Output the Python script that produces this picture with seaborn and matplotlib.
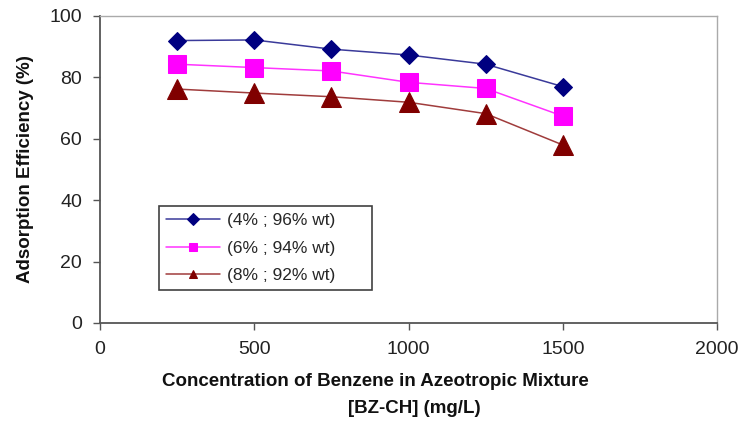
import matplotlib
matplotlib.use("Agg")
import matplotlib.pyplot as plt
import seaborn as sns
import pandas as pd

concentration = [250, 500, 750, 1000, 1250, 1500]
eff_4 = [92.0, 92.2, 89.2, 87.3, 84.3, 77.0]
eff_6 = [84.3, 83.2, 82.1, 78.4, 76.4, 67.4]
eff_8 = [76.2, 74.9, 73.7, 71.9, 68.2, 58.0]
series_labels = ["(4% ; 96% wt)", "(6% ; 94% wt)", "(8% ; 92% wt)"]
x_ticks = [0, 500, 1000, 1500, 2000]
y_ticks = [0, 20, 40, 60, 80, 100]

rows = []
for lab, vals in zip(series_labels, [eff_4, eff_6, eff_8]):
    for c, v in zip(concentration, vals):
        rows.append({"conc": c, "eff": v, "series": lab})
df = pd.DataFrame(rows)

sns.set_theme(style="white")
plt.rcParams['font.family'] = ['Liberation Sans', 'DejaVu Sans']

fig = plt.figure(figsize=(7.41, 4.21), dpi=100)
ax = fig.add_axes([0.135, 0.2328, 0.8326, 0.7292])

colors = {series_labels[0]: "#000080", series_labels[1]: "#FF00FF", series_labels[2]: "#800000"}
markers = {series_labels[0]: "D", series_labels[1]: "s", series_labels[2]: "^"}
sizes = {series_labels[0]: 9.5, series_labels[1]: 13.5, series_labels[2]: 14}
linecolors = {series_labels[0]: "#3a3a9a", series_labels[1]: "#FF33FF", series_labels[2]: "#a03c3c"}

for lab in series_labels:
    sub = df[df["series"] == lab]
    sns.lineplot(data=sub, x="conc", y="eff", ax=ax, color=linecolors[lab],
                 marker=markers[lab], markersize=sizes[lab],
                 markerfacecolor=colors[lab], markeredgecolor=colors[lab],
                 linewidth=1.1, label=lab)

ax.set_xlim(0, 2000)
ax.set_ylim(0, 100)
ax.set_xticks(x_ticks)
ax.set_yticks(y_ticks)
ax.tick_params(axis='both', direction='out', length=5, width=1, color="#555555",
               labelsize=14, labelcolor="#222222", left=True, bottom=True)
ax.tick_params(axis='x', pad=8)
ax.tick_params(axis='y', pad=8)

for side in ["left", "bottom"]:
    ax.spines[side].set_color("#555555")
    ax.spines[side].set_linewidth(1.3)
for side in ["top", "right"]:
    ax.spines[side].set_color("#aaaaaa")
    ax.spines[side].set_linewidth(1.0)

ax.set_xlabel("Concentration of Benzene in Azeotropic Mixture",
              fontsize=13.5, fontweight="bold", color="#111111")
ax.xaxis.set_label_coords(0.446, -0.19)
ax.xaxis.label.set_va("center")
ax.text(0.51, -0.28, "[BZ-CH] (mg/L)", transform=ax.transAxes, ha="center", va="center",
        fontsize=13.5, fontweight="bold", color="#111111")
ax.set_ylabel("Adsorption Efficiency (%)", fontsize=13.5, fontweight="bold",
              color="#111111", labelpad=11)

leg = ax.legend(loc="upper left", bbox_to_anchor=(0.0956, 0.381, 0.345, 0.0),
                mode="expand", fontsize=12.5, frameon=True, fancybox=False,
                edgecolor="#111111", borderaxespad=0, handlelength=3.1,
                labelspacing=0.72, borderpad=0.4, handletextpad=0.4)
leg.get_frame().set_linewidth(1.2)
for h in leg.legend_handles:
    h.set_markersize(6)

fig.savefig("out.png", dpi=100, facecolor="white")
